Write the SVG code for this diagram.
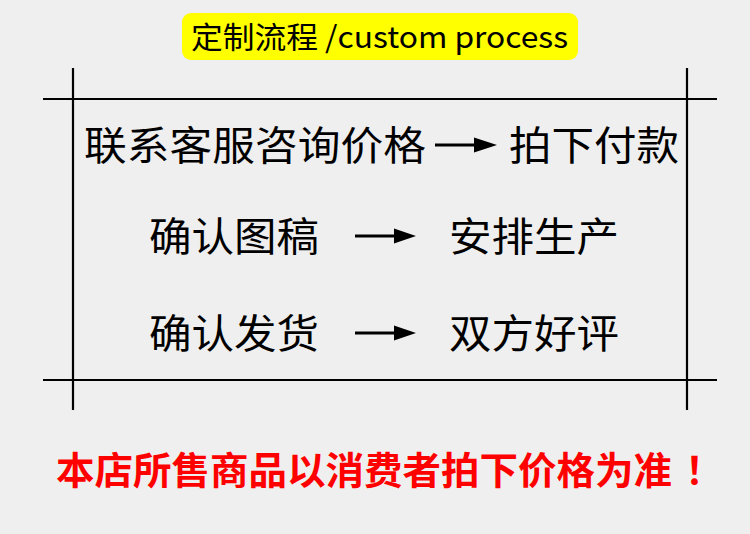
<svg xmlns="http://www.w3.org/2000/svg" width="750" height="534" viewBox="0 0 750 534">
<defs>
<style>
.t{font-family:"Noto Sans CJK SC","Liberation Sans",sans-serif;fill:#000;}
.r{font-family:"Noto Sans CJK SC","Liberation Sans",sans-serif;font-weight:bold;fill:#ff0000;}
.ln{stroke:#000;stroke-width:2.2;}
.ar{stroke:#000;stroke-width:3;}
.hd{fill:#000;}
</style>
</defs>
<rect width="750" height="534" fill="#efefef"/>
<g id="title">
<rect x="182" y="13" width="396" height="47" rx="9" fill="#ffff00"/>
<text class="t" x="191" y="48" font-size="30" textLength="377" lengthAdjust="spacingAndGlyphs">定制流程 /custom process</text>
</g>
<g id="frame">
<line class="ln" x1="43" y1="99" x2="717" y2="99"/>
<line class="ln" x1="43" y1="380" x2="717" y2="380"/>
<line class="ln" x1="73" y1="68" x2="73" y2="410"/>
<line class="ln" x1="687" y1="68" x2="687" y2="410"/>
</g>
<g id="row1">
<text class="t" x="84" y="160" font-size="40" textLength="342" lengthAdjust="spacingAndGlyphs">联系客服咨询价格</text>
<text class="t" x="509" y="160" font-size="40" textLength="170" lengthAdjust="spacingAndGlyphs">拍下付款</text>
</g>
<g id="row2">
<text class="t" x="149" y="251" font-size="40" textLength="170" lengthAdjust="spacingAndGlyphs">确认图稿</text>
<text class="t" x="449" y="251" font-size="40" textLength="170" lengthAdjust="spacingAndGlyphs">安排生产</text>
</g>
<g id="row3">
<text class="t" x="149" y="348" font-size="40" textLength="170" lengthAdjust="spacingAndGlyphs">确认发货</text>
<text class="t" x="449" y="348" font-size="40" textLength="170" lengthAdjust="spacingAndGlyphs">双方好评</text>
</g>
<g id="connectors">
<line class="ar" x1="435" y1="145" x2="476" y2="145"/>
<polygon class="hd" points="474,137.5 497,145 474,152.5"/>
<line class="ar" x1="355" y1="236" x2="396" y2="236"/>
<polygon class="hd" points="394,228.5 416,236 394,243.5"/>
<line class="ar" x1="355" y1="333" x2="396" y2="333"/>
<polygon class="hd" points="394,325.5 416,333 394,340.5"/>
</g>
<g id="note">
<text class="r" x="56" y="484" font-size="38" textLength="616" lengthAdjust="spacingAndGlyphs">本店所售商品以消费者拍下价格为准</text>
<text class="r" x="685" y="484" font-size="38">！</text>
</g>
</svg>
